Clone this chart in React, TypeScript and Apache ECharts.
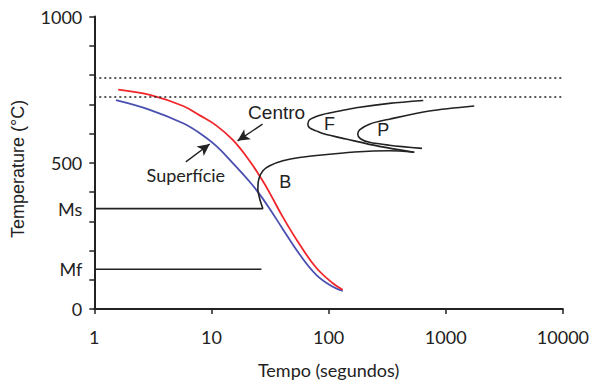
import React, { useEffect, useRef } from "react";
import * as echarts from "echarts";

// Cooling curves (time in s, temperature in °C)
const centroTime = [1.6, 2.98, 5.73, 7.95, 11.03, 15.28, 21.2, 26.7, 31.4, 40.7, 56.5, 78.4, 108.6, 132];
const centroTemp = [750, 732, 694, 662, 627, 577, 506, 445, 397, 314, 221, 141, 88, 66];
const superficieTime = [1.53, 2.98, 5.73, 7.95, 11.03, 15.28, 21.2, 25.8, 31.4, 40.7, 56.5, 78.4, 108.6, 132];
const superficieTemp = [714, 681, 635, 601, 557, 498, 435, 392, 343, 273, 187, 117, 76, 62];

// Transformation curves
const bTime = [27.5, 25.8, 24.9, 25.4, 27.5, 31.4, 40.7, 56.4, 108.6, 166, 330, 538];
const bTemp = [343, 377, 411, 445, 473, 490, 507, 518, 530, 537, 541, 536];
const fTime = [538, 271, 141, 92.3, 78.4, 69.4, 66.5, 68.8, 77.3, 89.2, 123.8, 171.8, 330, 643];
const fTemp = [536, 556, 581, 598, 609, 618, 632, 647, 657, 665, 677, 688, 703, 713];
const pTime = [1750, 724, 330, 223, 185, 177.3, 187, 223, 330, 627];
const pTemp = [694, 677, 649, 632, 613, 598, 582, 570, 560, 549];

// Martensite lines
const msTemp = 343;
const mfTemp = 136;
const msTime = [1, 27.5];
const mfTime = [1, 26.7];

// Critical temperatures (dotted)
const criticalTemps = [790, 727];

// Axis ticks / labels
const yTickValues = [0, 100, 200, 300, 400, 500, 600, 700, 800, 900, 1000];
const yLabelValues = [0, mfTemp, msTemp, 500, 1000];
const yLabelTexts = ["0", "Mf", "Ms", "500", "1000"];
const xMin = 1;
const xMax = 10000;
const xTitle = "Tempo (segundos)";
const yTitle = "Temperature (°C)";

// Annotations
const textNames = ["Centro", "Superfície", "F", "P", "B"];
const textTime = [36.0, 6.04, 101.8, 293, 42.7];
const textTemp = [672, 458, 632, 611, 434];
const textFonts = ["Liberation Sans", "Lato", "Liberation Sans", "Liberation Sans", "Liberation Sans"];
const arrowCentro = [[27.3, 632], [16.7, 575]];
const arrowSuperficie = [[6.04, 503], [9.67, 564]];

const zip = (a: number[], b: number[]) => a.map((v, i) => [v, b[i]]);

export default function App() {
  const ref = useRef<HTMLDivElement>(null);
  useEffect(() => {
    if (!ref.current) return;
    const chart = echarts.init(ref.current, undefined, { renderer: "svg" });
    const black = "#222";
    const lineBlack = { color: black, width: 1.6 };
    chart.setOption({
      animation: false,
      grid: { left: 94.3, right: 28, top: 16.5, bottom: 73 },
      xAxis: {
        type: "log",
        logBase: 10,
        min: xMin,
        max: xMax,
        name: xTitle,
        nameLocation: "middle",
        nameGap: 52,
        nameTextStyle: { fontFamily: "Lato", fontSize: 18, color: black },
        axisLine: { lineStyle: { color: black, width: 2 } },
        axisTick: { length: 5, lineStyle: { color: black, width: 1.5 } },
        minorTick: { show: false },
        splitLine: { show: false },
        axisLabel: {
          margin: 19,
          fontFamily: "Lato",
          fontSize: 18,
          color: black,
          formatter: (v: number) => String(Math.round(v)),
        },
      },
      yAxis: {
        type: "value",
        min: 0,
        max: 1000,
        interval: 100,
        axisLine: { show: true, lineStyle: { color: black, width: 2 } },
        axisTick: { show: true, length: 5, customValues: yTickValues, lineStyle: { color: black, width: 1.5 } },
        splitLine: { show: false },
        axisLabel: {
          margin: 12,
          fontFamily: "Lato",
          fontSize: 18,
          color: black,
          customValues: yLabelValues,
          formatter: (v: number) => {
            const i = yLabelValues.indexOf(v);
            return i >= 0 ? yLabelTexts[i] : "";
          },
        },
      },
      series: [
        {
          type: "line",
          data: zip(superficieTime, superficieTemp),
          smooth: 0.4,
          symbol: "none",
          lineStyle: { color: "#4a50b0", width: 1.8 },
          z: 3,
          markLine: {
            silent: true,
            symbol: ["none", "none"],
            label: { show: false },
            lineStyle: { color: black, width: 1.6, type: [2, 3] },
            data: criticalTemps.map((t) => ({ yAxis: t })),
          },
        },
        {
          type: "line",
          data: zip(centroTime, centroTemp),
          smooth: 0.4,
          symbol: "none",
          lineStyle: { color: "#f0262b", width: 1.8 },
          z: 3,
          markLine: {
            silent: true,
            symbol: ["none", "arrow"],
            symbolSize: [9, 12],
            label: { show: false },
            lineStyle: { color: black, width: 1.4, type: "solid" },
            data: [
              [{ coord: arrowCentro[0] }, { coord: arrowCentro[1] }],
              [{ coord: arrowSuperficie[0] }, { coord: arrowSuperficie[1] }],
            ],
          },
        },
        { type: "line", data: zip(msTime, [msTemp, msTemp]), symbol: "none", lineStyle: lineBlack },
        { type: "line", data: zip(mfTime, [mfTemp, mfTemp]), symbol: "none", lineStyle: lineBlack },
        { type: "line", data: zip(bTime, bTemp), smooth: 0.3, symbol: "none", lineStyle: lineBlack },
        { type: "line", data: zip(fTime, fTemp), smooth: 0.3, symbol: "none", lineStyle: lineBlack },
        { type: "line", data: zip(pTime, pTemp), smooth: 0.3, symbol: "none", lineStyle: lineBlack },
      ],
    });

    const texts = textNames.map((n, i) => {
      const p = chart.convertToPixel({ xAxisIndex: 0, yAxisIndex: 0 }, [textTime[i], textTemp[i]]) as number[];
      return {
        type: "text",
        x: p[0],
        y: p[1],
        z: 10,
        style: {
          text: n,
          fill: black,
          font: `${i === 0 ? 19 : 18}px "${textFonts[i]}"`,
          align: "center",
          verticalAlign: "middle",
        },
      };
    });
    chart.setOption({
      graphic: [
        ...texts,
        {
          type: "text",
          x: 18,
          y: 169,
          rotation: Math.PI / 2,
          style: {
            text: yTitle,
            fill: black,
            font: '18px "Liberation Sans"',
            align: "center",
            verticalAlign: "middle",
          },
        },
      ],
    });
    return () => chart.dispose();
  }, []);
  return (
    <div
      ref={ref}
      style={{ position: "fixed", left: 0, top: 0, width: 592, height: 384, background: "#fff" }}
    />
  );
}
